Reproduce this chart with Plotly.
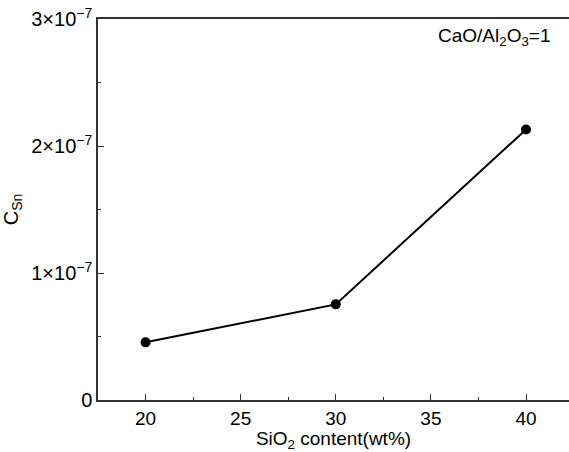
import plotly.graph_objects as go

sio2 = [20, 30, 40]
csn = [0.454e-7, 0.753e-7, 2.13e-7]
ytick_vals = [0, 1e-7, 2e-7, 3e-7]
ytick_text = ["0", "1×10<sup>−7</sup>", "2×10<sup>−7</sup>", "3×10<sup>−7</sup>"]
xtick_vals = [20, 25, 30, 35, 40]

fig = go.Figure()
fig.add_trace(go.Scatter(
    x=sio2, y=csn, mode="lines+markers",
    line=dict(color="black", width=2),
    marker=dict(color="black", size=10),
    showlegend=False,
))

font = "Liberation Sans"
fig.update_layout(
    width=569, height=452,
    margin=dict(l=98, r=0, t=19, b=52),
    paper_bgcolor="white", plot_bgcolor="white",
    font=dict(family=font, color="black", size=17),
    xaxis=dict(
        range=[17.5, 42.26], tickvals=xtick_vals,
        showline=True, linecolor="#333", linewidth=1.5, mirror=True,
        ticks="inside", ticklen=6, tickcolor="#333",
        minor=dict(ticks="inside", ticklen=3, dtick=2.5, tickcolor="#333", showgrid=False),
        showgrid=False, zeroline=False,
        title=dict(text="SiO<sub>2</sub> content(wt%)", font=dict(family=font, size=19), standoff=5),
        tickfont=dict(family=font, size=19),
    ),
    yaxis=dict(
        range=[0, 3e-7], tickvals=ytick_vals, ticktext=ytick_text,
        showline=True, linecolor="#333", linewidth=1.5, mirror=False,
        ticks="inside", ticklen=6, tickcolor="#333",
        minor=dict(ticks="inside", ticklen=3, tickvals=[0.5e-7, 1.5e-7, 2.5e-7], tickcolor="#333", showgrid=False),
        showgrid=False, zeroline=False,
        title=dict(text="C<sub>Sn</sub>", font=dict(family=font, size=20), standoff=14),
        tickfont=dict(family=font, size=20),
    ),
    annotations=[dict(
        text="CaO/Al<sub>2</sub>O<sub>3</sub>=1", xref="paper", yref="paper",
        x=0.965, y=0.99, xanchor="right", yanchor="top", showarrow=False,
        font=dict(family=font, size=19),
    )],
)

fig.write_html("out.html")
